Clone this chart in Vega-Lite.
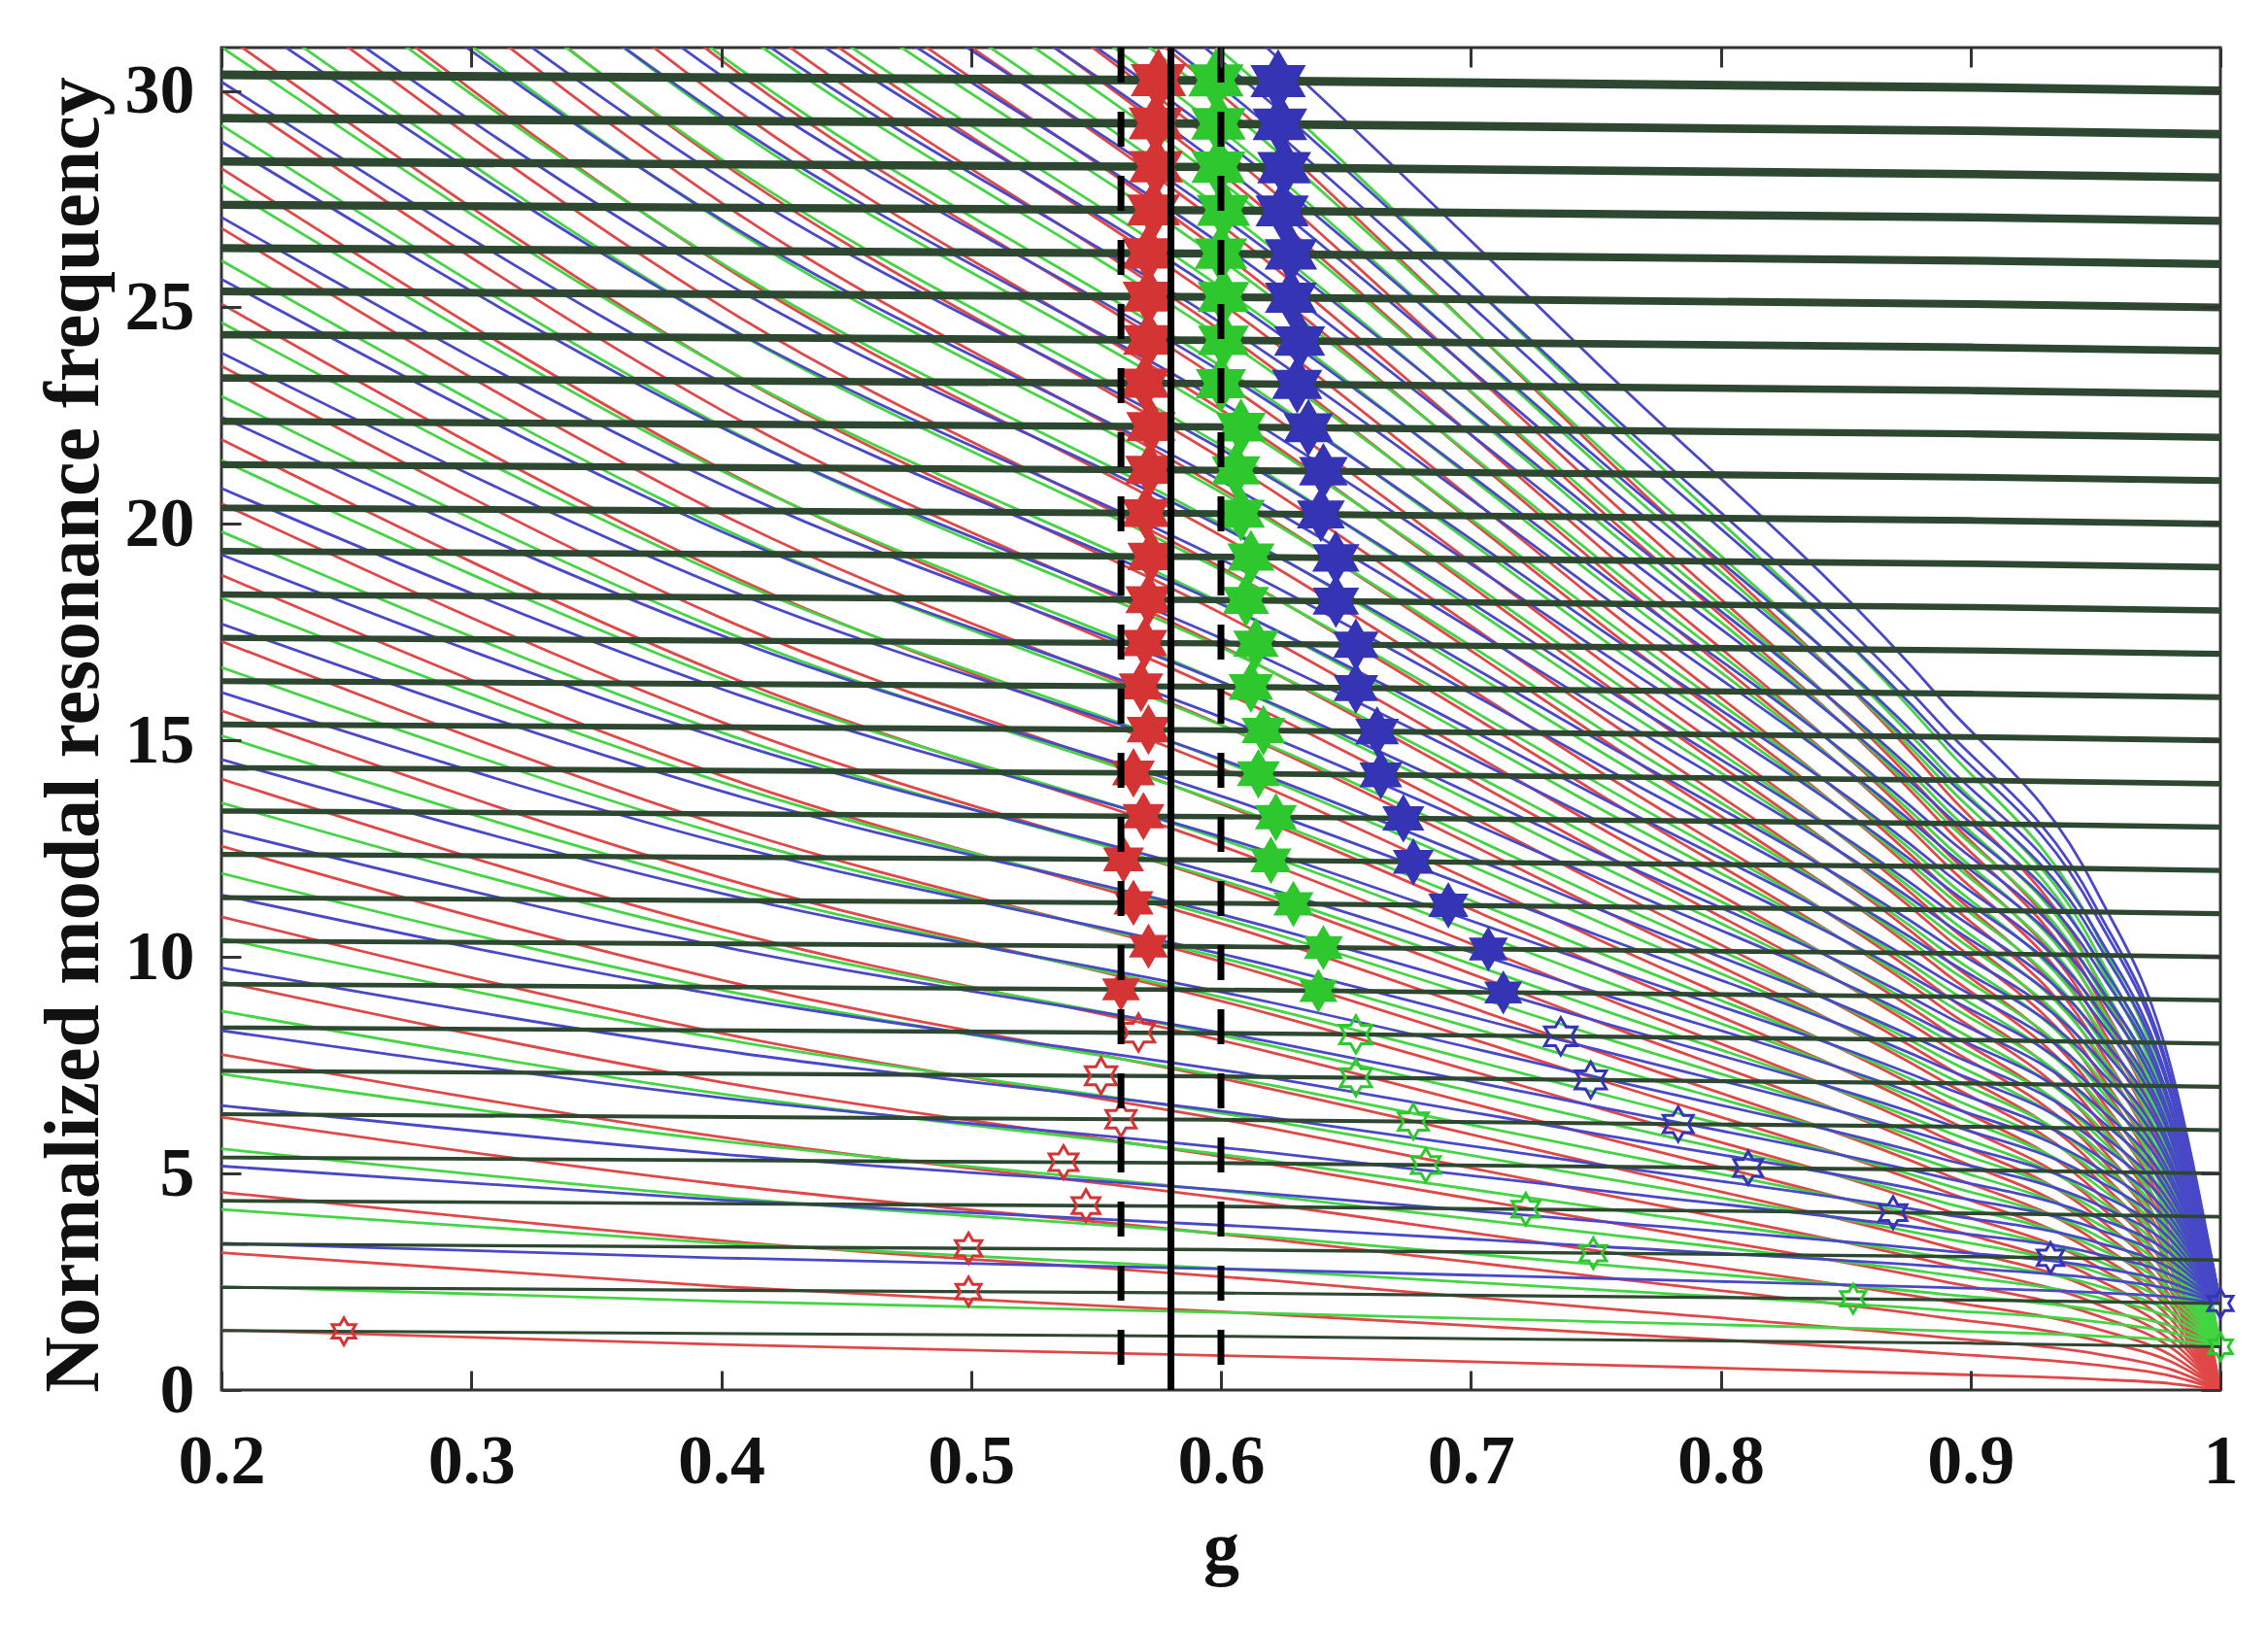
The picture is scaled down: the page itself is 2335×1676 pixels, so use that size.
{
  "$schema": "https://vega.github.io/schema/vega-lite/v6.json",
  "width": 2058,
  "height": 1382,
  "autosize": {"type": "none"},
  "padding": {"left": 228, "top": 49, "right": 49, "bottom": 245},
  "background": "white",
  "config": {
    "view": {"stroke": "#333333", "strokeWidth": 3},
    "axis": {
      "labelFont": "Liberation Serif",
      "labelFontWeight": "bold",
      "labelFontSize": 72,
      "labelColor": "#111111",
      "titleFont": "Liberation Serif",
      "titleFontWeight": "bold",
      "titleColor": "#111111",
      "grid": false,
      "domain": false,
      "tickColor": "#333333",
      "tickWidth": 3,
      "labelFlush": false,
      "labelOverlap": false
    }
  },
  "datasets": {
    "red": [
      {"k":"a0","g":0.2,"f":1.39},{"k":"a0","g":0.4,"f":1.05},{"k":"a0","g":0.62,"f":0.77},{"k":"a0","g":0.75,"f":0.58},{"k":"a0","g":0.888,"f":0.37},{"k":"a0","g":0.95,"f":0.25},{"k":"a0","g":0.98,"f":0.15},{"k":"a0","g":1,"f":0},
      {"k":"b0","g":0.2,"f":3.17},{"k":"b0","g":0.4,"f":2.39},{"k":"b0","g":0.62,"f":1.75},{"k":"b0","g":0.75,"f":1.32},{"k":"b0","g":0.888,"f":0.85},{"k":"b0","g":0.95,"f":0.58},{"k":"b0","g":0.98,"f":0.33},{"k":"b0","g":1,"f":0},
      {"k":"a1","g":0.2,"f":4.57},{"k":"a1","g":0.4,"f":3.45},{"k":"a1","g":0.62,"f":2.53},{"k":"a1","g":0.75,"f":1.9},{"k":"a1","g":0.888,"f":1.22},{"k":"a1","g":0.95,"f":0.84},{"k":"a1","g":0.98,"f":0.48},{"k":"a1","g":1,"f":0},
      {"k":"b1","g":0.2,"f":6.3},{"k":"b1","g":0.4,"f":4.75},{"k":"b1","g":0.62,"f":3.48},{"k":"b1","g":0.75,"f":2.62},{"k":"b1","g":0.888,"f":1.68},{"k":"b1","g":0.95,"f":1.15},{"k":"b1","g":0.98,"f":0.66},{"k":"b1","g":1,"f":0},
      {"k":"a2","g":0.2,"f":7.75},{"k":"a2","g":0.4,"f":5.84},{"k":"a2","g":0.62,"f":4.29},{"k":"a2","g":0.75,"f":3.22},{"k":"a2","g":0.888,"f":2.07},{"k":"a2","g":0.95,"f":1.42},{"k":"a2","g":0.98,"f":0.81},{"k":"a2","g":1,"f":0},
      {"k":"b2","g":0.2,"f":9.43},{"k":"b2","g":0.4,"f":7.11},{"k":"b2","g":0.62,"f":5.21},{"k":"b2","g":0.75,"f":3.92},{"k":"b2","g":0.888,"f":2.52},{"k":"b2","g":0.95,"f":1.73},{"k":"b2","g":0.98,"f":0.99},{"k":"b2","g":1,"f":0},
      {"k":"a3","g":0.2,"f":10.93},{"k":"a3","g":0.4,"f":8.24},{"k":"a3","g":0.62,"f":6.04},{"k":"a3","g":0.75,"f":4.55},{"k":"a3","g":0.888,"f":2.92},{"k":"a3","g":0.95,"f":2},{"k":"a3","g":0.98,"f":1.15},{"k":"a3","g":1,"f":0},
      {"k":"b3","g":0.2,"f":12.56},{"k":"b3","g":0.4,"f":9.47},{"k":"b3","g":0.62,"f":6.95},{"k":"b3","g":0.75,"f":5.23},{"k":"b3","g":0.888,"f":3.35},{"k":"b3","g":0.95,"f":2.3},{"k":"b3","g":0.98,"f":1.32},{"k":"b3","g":1,"f":0},
      {"k":"a4","g":0.2,"f":14.11},{"k":"a4","g":0.4,"f":10.64},{"k":"a4","g":0.62,"f":7.8},{"k":"a4","g":0.75,"f":5.87},{"k":"a4","g":0.888,"f":3.77},{"k":"a4","g":0.95,"f":2.58},{"k":"a4","g":0.98,"f":1.48},{"k":"a4","g":1,"f":0},
      {"k":"b4","g":0.2,"f":15.69},{"k":"b4","g":0.4,"f":11.83},{"k":"b4","g":0.62,"f":8.68},{"k":"b4","g":0.75,"f":6.53},{"k":"b4","g":0.888,"f":4.19},{"k":"b4","g":0.95,"f":2.87},{"k":"b4","g":0.98,"f":1.65},{"k":"b4","g":1,"f":0},
      {"k":"a5","g":0.2,"f":17.29},{"k":"a5","g":0.4,"f":13.04},{"k":"a5","g":0.62,"f":9.56},{"k":"a5","g":0.75,"f":7.19},{"k":"a5","g":0.888,"f":4.62},{"k":"a5","g":0.95,"f":3.16},{"k":"a5","g":0.98,"f":1.82},{"k":"a5","g":1,"f":0},
      {"k":"b5","g":0.2,"f":18.82},{"k":"b5","g":0.4,"f":14.19},{"k":"b5","g":0.62,"f":10.41},{"k":"b5","g":0.75,"f":7.83},{"k":"b5","g":0.888,"f":5.02},{"k":"b5","g":0.95,"f":3.44},{"k":"b5","g":0.98,"f":1.98},{"k":"b5","g":1,"f":0},
      {"k":"a6","g":0.2,"f":20.47},{"k":"a6","g":0.4,"f":15.43},{"k":"a6","g":0.62,"f":11.32},{"k":"a6","g":0.75,"f":8.52},{"k":"a6","g":0.888,"f":5.47},{"k":"a6","g":0.95,"f":3.75},{"k":"a6","g":0.98,"f":2.15},{"k":"a6","g":1,"f":0},
      {"k":"b6","g":0.2,"f":21.95},{"k":"b6","g":0.4,"f":16.55},{"k":"b6","g":0.62,"f":12.14},{"k":"b6","g":0.75,"f":9.13},{"k":"b6","g":0.888,"f":5.86},{"k":"b6","g":0.95,"f":4.02},{"k":"b6","g":0.98,"f":2.3},{"k":"b6","g":1,"f":0},
      {"k":"a7","g":0.2,"f":23.65},{"k":"a7","g":0.4,"f":17.83},{"k":"a7","g":0.62,"f":13.08},{"k":"a7","g":0.75,"f":9.84},{"k":"a7","g":0.888,"f":6.31},{"k":"a7","g":0.95,"f":4.33},{"k":"a7","g":0.98,"f":2.48},{"k":"a7","g":1,"f":0},
      {"k":"b7","g":0.2,"f":25.08},{"k":"b7","g":0.4,"f":18.91},{"k":"b7","g":0.62,"f":13.87},{"k":"b7","g":0.75,"f":10.43},{"k":"b7","g":0.888,"f":6.7},{"k":"b7","g":0.95,"f":4.59},{"k":"b7","g":0.98,"f":2.63},{"k":"b7","g":1,"f":0},
      {"k":"a8","g":0.2,"f":26.83},{"k":"a8","g":0.4,"f":20.23},{"k":"a8","g":0.62,"f":14.84},{"k":"a8","g":0.75,"f":11.16},{"k":"a8","g":0.888,"f":7.16},{"k":"a8","g":0.95,"f":4.91},{"k":"a8","g":0.98,"f":2.82},{"k":"a8","g":1,"f":0},
      {"k":"b8","g":0.2,"f":28.21},{"k":"b8","g":0.4,"f":21.27},{"k":"b8","g":0.62,"f":15.6},{"k":"b8","g":0.75,"f":11.74},{"k":"b8","g":0.888,"f":7.53},{"k":"b8","g":0.95,"f":5.16},{"k":"b8","g":0.98,"f":2.96},{"k":"b8","g":1,"f":0},
      {"k":"a9","g":0.2,"f":30.01},{"k":"a9","g":0.4,"f":22.63},{"k":"a9","g":0.62,"f":16.6},{"k":"a9","g":0.75,"f":12.48},{"k":"a9","g":0.888,"f":8.01},{"k":"a9","g":0.95,"f":5.49},{"k":"a9","g":0.98,"f":3.15},{"k":"a9","g":1,"f":0},
      {"k":"b9","g":0.2,"f":31.34},{"k":"b9","g":0.4,"f":23.63},{"k":"b9","g":0.62,"f":17.33},{"k":"b9","g":0.75,"f":13.04},{"k":"b9","g":0.888,"f":8.37},{"k":"b9","g":0.95,"f":5.74},{"k":"b9","g":0.98,"f":3.29},{"k":"b9","g":1,"f":0},
      {"k":"a10","g":0.2,"f":33.19},{"k":"a10","g":0.4,"f":25.03},{"k":"a10","g":0.62,"f":18.35},{"k":"a10","g":0.75,"f":13.81},{"k":"a10","g":0.888,"f":8.86},{"k":"a10","g":0.95,"f":6.07},{"k":"a10","g":0.98,"f":3.49},{"k":"a10","g":1,"f":0},
      {"k":"b10","g":0.2,"f":34.47},{"k":"b10","g":0.4,"f":25.99},{"k":"b10","g":0.62,"f":19.06},{"k":"b10","g":0.75,"f":14.34},{"k":"b10","g":0.888,"f":9.2},{"k":"b10","g":0.95,"f":6.31},{"k":"b10","g":0.98,"f":3.62},{"k":"b10","g":1,"f":0},
      {"k":"a11","g":0.2,"f":36.37},{"k":"a11","g":0.4,"f":27.42},{"k":"a11","g":0.62,"f":20.11},{"k":"a11","g":0.75,"f":15.13},{"k":"a11","g":0.888,"f":9.71},{"k":"a11","g":0.95,"f":6.66},{"k":"a11","g":0.98,"f":3.82},{"k":"a11","g":1,"f":0},
      {"k":"b11","g":0.2,"f":37.6},{"k":"b11","g":0.4,"f":28.35},{"k":"b11","g":0.62,"f":20.79},{"k":"b11","g":0.75,"f":15.64},{"k":"b11","g":0.888,"f":10.04},{"k":"b11","g":0.95,"f":6.88},{"k":"b11","g":0.98,"f":3.95},{"k":"b11","g":1,"f":0},
      {"k":"a12","g":0.2,"f":39.55},{"k":"a12","g":0.4,"f":29.82},{"k":"a12","g":0.62,"f":21.87},{"k":"a12","g":0.75,"f":16.45},{"k":"a12","g":0.888,"f":10.56},{"k":"a12","g":0.95,"f":7.24},{"k":"a12","g":0.98,"f":4.15},{"k":"a12","g":1,"f":0},
      {"k":"b12","g":0.2,"f":40.73},{"k":"b12","g":0.4,"f":30.71},{"k":"b12","g":0.62,"f":22.52},{"k":"b12","g":0.75,"f":16.94},{"k":"b12","g":0.888,"f":10.88},{"k":"b12","g":0.95,"f":7.45},{"k":"b12","g":0.98,"f":4.28},{"k":"b12","g":1,"f":0},
      {"k":"a13","g":0.2,"f":42.73},{"k":"a13","g":0.4,"f":32.22},{"k":"a13","g":0.62,"f":23.63},{"k":"a13","g":0.75,"f":17.78},{"k":"a13","g":0.888,"f":11.41},{"k":"a13","g":0.95,"f":7.82},{"k":"a13","g":0.98,"f":4.49},{"k":"a13","g":1,"f":0},
      {"k":"b13","g":0.2,"f":43.86},{"k":"b13","g":0.4,"f":33.07},{"k":"b13","g":0.62,"f":24.25},{"k":"b13","g":0.75,"f":18.25},{"k":"b13","g":0.888,"f":11.71},{"k":"b13","g":0.95,"f":8.03},{"k":"b13","g":0.98,"f":4.61},{"k":"b13","g":1,"f":0},
      {"k":"a14","g":0.2,"f":45.91},{"k":"a14","g":0.4,"f":34.62},{"k":"a14","g":0.62,"f":25.39},{"k":"a14","g":0.75,"f":19.1},{"k":"a14","g":0.888,"f":12.26},{"k":"a14","g":0.95,"f":8.4},{"k":"a14","g":0.98,"f":4.82},{"k":"a14","g":1,"f":0},
      {"k":"b14","g":0.2,"f":46.99},{"k":"b14","g":0.4,"f":35.43},{"k":"b14","g":0.62,"f":25.99},{"k":"b14","g":0.75,"f":19.55},{"k":"b14","g":0.888,"f":12.55},{"k":"b14","g":0.95,"f":8.6},{"k":"b14","g":0.98,"f":4.93},{"k":"b14","g":1,"f":0},
      {"k":"a15","g":0.2,"f":49.09},{"k":"a15","g":0.4,"f":37.01},{"k":"a15","g":0.62,"f":27.15},{"k":"a15","g":0.75,"f":20.42},{"k":"a15","g":0.888,"f":13.11},{"k":"a15","g":0.95,"f":8.98},{"k":"a15","g":0.98,"f":5.15},{"k":"a15","g":1,"f":0},
      {"k":"b15","g":0.2,"f":50.12},{"k":"b15","g":0.4,"f":37.79},{"k":"b15","g":0.62,"f":27.72},{"k":"b15","g":0.75,"f":20.85},{"k":"b15","g":0.888,"f":13.38},{"k":"b15","g":0.95,"f":9.17},{"k":"b15","g":0.98,"f":5.26},{"k":"b15","g":1,"f":0},
      {"k":"a16","g":0.2,"f":52.27},{"k":"a16","g":0.4,"f":39.41},{"k":"a16","g":0.62,"f":28.91},{"k":"a16","g":0.75,"f":21.74},{"k":"a16","g":0.888,"f":13.96},{"k":"a16","g":0.95,"f":9.57},{"k":"a16","g":0.98,"f":5.49},{"k":"a16","g":1,"f":0}
    ],
    "green": [
      {"k":"a0","g":0.2,"f":2.39},{"k":"a0","g":0.4,"f":2.05},{"k":"a0","g":0.62,"f":1.77},{"k":"a0","g":0.75,"f":1.58},{"k":"a0","g":0.888,"f":1.37},{"k":"a0","g":0.95,"f":1.25},{"k":"a0","g":0.98,"f":1.15},{"k":"a0","g":1,"f":1},
      {"k":"b0","g":0.2,"f":4.17},{"k":"b0","g":0.4,"f":3.39},{"k":"b0","g":0.62,"f":2.75},{"k":"b0","g":0.75,"f":2.32},{"k":"b0","g":0.888,"f":1.85},{"k":"b0","g":0.95,"f":1.58},{"k":"b0","g":0.98,"f":1.33},{"k":"b0","g":1,"f":1},
      {"k":"a1","g":0.2,"f":5.57},{"k":"a1","g":0.4,"f":4.45},{"k":"a1","g":0.62,"f":3.53},{"k":"a1","g":0.75,"f":2.9},{"k":"a1","g":0.888,"f":2.22},{"k":"a1","g":0.95,"f":1.84},{"k":"a1","g":0.98,"f":1.48},{"k":"a1","g":1,"f":1},
      {"k":"b1","g":0.2,"f":7.3},{"k":"b1","g":0.4,"f":5.75},{"k":"b1","g":0.62,"f":4.48},{"k":"b1","g":0.75,"f":3.62},{"k":"b1","g":0.888,"f":2.68},{"k":"b1","g":0.95,"f":2.15},{"k":"b1","g":0.98,"f":1.66},{"k":"b1","g":1,"f":1},
      {"k":"a2","g":0.2,"f":8.75},{"k":"a2","g":0.4,"f":6.84},{"k":"a2","g":0.62,"f":5.29},{"k":"a2","g":0.75,"f":4.22},{"k":"a2","g":0.888,"f":3.07},{"k":"a2","g":0.95,"f":2.42},{"k":"a2","g":0.98,"f":1.81},{"k":"a2","g":1,"f":1},
      {"k":"b2","g":0.2,"f":10.43},{"k":"b2","g":0.4,"f":8.11},{"k":"b2","g":0.62,"f":6.21},{"k":"b2","g":0.75,"f":4.92},{"k":"b2","g":0.888,"f":3.52},{"k":"b2","g":0.95,"f":2.73},{"k":"b2","g":0.98,"f":1.99},{"k":"b2","g":1,"f":1},
      {"k":"a3","g":0.2,"f":11.93},{"k":"a3","g":0.4,"f":9.24},{"k":"a3","g":0.62,"f":7.04},{"k":"a3","g":0.75,"f":5.55},{"k":"a3","g":0.888,"f":3.92},{"k":"a3","g":0.95,"f":3},{"k":"a3","g":0.98,"f":2.15},{"k":"a3","g":1,"f":1},
      {"k":"b3","g":0.2,"f":13.56},{"k":"b3","g":0.4,"f":10.47},{"k":"b3","g":0.62,"f":7.95},{"k":"b3","g":0.75,"f":6.23},{"k":"b3","g":0.888,"f":4.35},{"k":"b3","g":0.95,"f":3.3},{"k":"b3","g":0.98,"f":2.32},{"k":"b3","g":1,"f":1},
      {"k":"a4","g":0.2,"f":15.11},{"k":"a4","g":0.4,"f":11.64},{"k":"a4","g":0.62,"f":8.8},{"k":"a4","g":0.75,"f":6.87},{"k":"a4","g":0.888,"f":4.77},{"k":"a4","g":0.95,"f":3.58},{"k":"a4","g":0.98,"f":2.48},{"k":"a4","g":1,"f":1},
      {"k":"b4","g":0.2,"f":16.69},{"k":"b4","g":0.4,"f":12.83},{"k":"b4","g":0.62,"f":9.68},{"k":"b4","g":0.75,"f":7.53},{"k":"b4","g":0.888,"f":5.19},{"k":"b4","g":0.95,"f":3.87},{"k":"b4","g":0.98,"f":2.65},{"k":"b4","g":1,"f":1},
      {"k":"a5","g":0.2,"f":18.29},{"k":"a5","g":0.4,"f":14.04},{"k":"a5","g":0.62,"f":10.56},{"k":"a5","g":0.75,"f":8.19},{"k":"a5","g":0.888,"f":5.62},{"k":"a5","g":0.95,"f":4.16},{"k":"a5","g":0.98,"f":2.82},{"k":"a5","g":1,"f":1},
      {"k":"b5","g":0.2,"f":19.82},{"k":"b5","g":0.4,"f":15.19},{"k":"b5","g":0.62,"f":11.41},{"k":"b5","g":0.75,"f":8.83},{"k":"b5","g":0.888,"f":6.02},{"k":"b5","g":0.95,"f":4.44},{"k":"b5","g":0.98,"f":2.98},{"k":"b5","g":1,"f":1},
      {"k":"a6","g":0.2,"f":21.47},{"k":"a6","g":0.4,"f":16.43},{"k":"a6","g":0.62,"f":12.32},{"k":"a6","g":0.75,"f":9.52},{"k":"a6","g":0.888,"f":6.47},{"k":"a6","g":0.95,"f":4.75},{"k":"a6","g":0.98,"f":3.15},{"k":"a6","g":1,"f":1},
      {"k":"b6","g":0.2,"f":22.95},{"k":"b6","g":0.4,"f":17.55},{"k":"b6","g":0.62,"f":13.14},{"k":"b6","g":0.75,"f":10.13},{"k":"b6","g":0.888,"f":6.86},{"k":"b6","g":0.95,"f":5.02},{"k":"b6","g":0.98,"f":3.3},{"k":"b6","g":1,"f":1},
      {"k":"a7","g":0.2,"f":24.65},{"k":"a7","g":0.4,"f":18.83},{"k":"a7","g":0.62,"f":14.08},{"k":"a7","g":0.75,"f":10.84},{"k":"a7","g":0.888,"f":7.31},{"k":"a7","g":0.95,"f":5.33},{"k":"a7","g":0.98,"f":3.48},{"k":"a7","g":1,"f":1},
      {"k":"b7","g":0.2,"f":26.08},{"k":"b7","g":0.4,"f":19.91},{"k":"b7","g":0.62,"f":14.87},{"k":"b7","g":0.75,"f":11.43},{"k":"b7","g":0.888,"f":7.7},{"k":"b7","g":0.95,"f":5.59},{"k":"b7","g":0.98,"f":3.63},{"k":"b7","g":1,"f":1},
      {"k":"a8","g":0.2,"f":27.83},{"k":"a8","g":0.4,"f":21.23},{"k":"a8","g":0.62,"f":15.84},{"k":"a8","g":0.75,"f":12.16},{"k":"a8","g":0.888,"f":8.16},{"k":"a8","g":0.95,"f":5.91},{"k":"a8","g":0.98,"f":3.82},{"k":"a8","g":1,"f":1},
      {"k":"b8","g":0.2,"f":29.21},{"k":"b8","g":0.4,"f":22.27},{"k":"b8","g":0.62,"f":16.6},{"k":"b8","g":0.75,"f":12.74},{"k":"b8","g":0.888,"f":8.53},{"k":"b8","g":0.95,"f":6.16},{"k":"b8","g":0.98,"f":3.96},{"k":"b8","g":1,"f":1},
      {"k":"a9","g":0.2,"f":31.01},{"k":"a9","g":0.4,"f":23.63},{"k":"a9","g":0.62,"f":17.6},{"k":"a9","g":0.75,"f":13.48},{"k":"a9","g":0.888,"f":9.01},{"k":"a9","g":0.95,"f":6.49},{"k":"a9","g":0.98,"f":4.15},{"k":"a9","g":1,"f":1},
      {"k":"b9","g":0.2,"f":32.34},{"k":"b9","g":0.4,"f":24.63},{"k":"b9","g":0.62,"f":18.33},{"k":"b9","g":0.75,"f":14.04},{"k":"b9","g":0.888,"f":9.37},{"k":"b9","g":0.95,"f":6.74},{"k":"b9","g":0.98,"f":4.29},{"k":"b9","g":1,"f":1},
      {"k":"a10","g":0.2,"f":34.19},{"k":"a10","g":0.4,"f":26.03},{"k":"a10","g":0.62,"f":19.35},{"k":"a10","g":0.75,"f":14.81},{"k":"a10","g":0.888,"f":9.86},{"k":"a10","g":0.95,"f":7.07},{"k":"a10","g":0.98,"f":4.49},{"k":"a10","g":1,"f":1},
      {"k":"b10","g":0.2,"f":35.47},{"k":"b10","g":0.4,"f":26.99},{"k":"b10","g":0.62,"f":20.06},{"k":"b10","g":0.75,"f":15.34},{"k":"b10","g":0.888,"f":10.2},{"k":"b10","g":0.95,"f":7.31},{"k":"b10","g":0.98,"f":4.62},{"k":"b10","g":1,"f":1},
      {"k":"a11","g":0.2,"f":37.37},{"k":"a11","g":0.4,"f":28.42},{"k":"a11","g":0.62,"f":21.11},{"k":"a11","g":0.75,"f":16.13},{"k":"a11","g":0.888,"f":10.71},{"k":"a11","g":0.95,"f":7.66},{"k":"a11","g":0.98,"f":4.82},{"k":"a11","g":1,"f":1},
      {"k":"b11","g":0.2,"f":38.6},{"k":"b11","g":0.4,"f":29.35},{"k":"b11","g":0.62,"f":21.79},{"k":"b11","g":0.75,"f":16.64},{"k":"b11","g":0.888,"f":11.04},{"k":"b11","g":0.95,"f":7.88},{"k":"b11","g":0.98,"f":4.95},{"k":"b11","g":1,"f":1},
      {"k":"a12","g":0.2,"f":40.55},{"k":"a12","g":0.4,"f":30.82},{"k":"a12","g":0.62,"f":22.87},{"k":"a12","g":0.75,"f":17.45},{"k":"a12","g":0.888,"f":11.56},{"k":"a12","g":0.95,"f":8.24},{"k":"a12","g":0.98,"f":5.15},{"k":"a12","g":1,"f":1},
      {"k":"b12","g":0.2,"f":41.73},{"k":"b12","g":0.4,"f":31.71},{"k":"b12","g":0.62,"f":23.52},{"k":"b12","g":0.75,"f":17.94},{"k":"b12","g":0.888,"f":11.88},{"k":"b12","g":0.95,"f":8.45},{"k":"b12","g":0.98,"f":5.28},{"k":"b12","g":1,"f":1},
      {"k":"a13","g":0.2,"f":43.73},{"k":"a13","g":0.4,"f":33.22},{"k":"a13","g":0.62,"f":24.63},{"k":"a13","g":0.75,"f":18.78},{"k":"a13","g":0.888,"f":12.41},{"k":"a13","g":0.95,"f":8.82},{"k":"a13","g":0.98,"f":5.49},{"k":"a13","g":1,"f":1},
      {"k":"b13","g":0.2,"f":44.86},{"k":"b13","g":0.4,"f":34.07},{"k":"b13","g":0.62,"f":25.25},{"k":"b13","g":0.75,"f":19.25},{"k":"b13","g":0.888,"f":12.71},{"k":"b13","g":0.95,"f":9.03},{"k":"b13","g":0.98,"f":5.61},{"k":"b13","g":1,"f":1},
      {"k":"a14","g":0.2,"f":46.91},{"k":"a14","g":0.4,"f":35.62},{"k":"a14","g":0.62,"f":26.39},{"k":"a14","g":0.75,"f":20.1},{"k":"a14","g":0.888,"f":13.26},{"k":"a14","g":0.95,"f":9.4},{"k":"a14","g":0.98,"f":5.82},{"k":"a14","g":1,"f":1},
      {"k":"b14","g":0.2,"f":47.99},{"k":"b14","g":0.4,"f":36.43},{"k":"b14","g":0.62,"f":26.99},{"k":"b14","g":0.75,"f":20.55},{"k":"b14","g":0.888,"f":13.55},{"k":"b14","g":0.95,"f":9.6},{"k":"b14","g":0.98,"f":5.93},{"k":"b14","g":1,"f":1},
      {"k":"a15","g":0.2,"f":50.09},{"k":"a15","g":0.4,"f":38.01},{"k":"a15","g":0.62,"f":28.15},{"k":"a15","g":0.75,"f":21.42},{"k":"a15","g":0.888,"f":14.11},{"k":"a15","g":0.95,"f":9.98},{"k":"a15","g":0.98,"f":6.15},{"k":"a15","g":1,"f":1},
      {"k":"b15","g":0.2,"f":51.12},{"k":"b15","g":0.4,"f":38.79},{"k":"b15","g":0.62,"f":28.72},{"k":"b15","g":0.75,"f":21.85},{"k":"b15","g":0.888,"f":14.38},{"k":"b15","g":0.95,"f":10.17},{"k":"b15","g":0.98,"f":6.26},{"k":"b15","g":1,"f":1},
      {"k":"a16","g":0.2,"f":53.27},{"k":"a16","g":0.4,"f":40.41},{"k":"a16","g":0.62,"f":29.91},{"k":"a16","g":0.75,"f":22.74},{"k":"a16","g":0.888,"f":14.96},{"k":"a16","g":0.95,"f":10.57},{"k":"a16","g":0.98,"f":6.49},{"k":"a16","g":1,"f":1}
    ],
    "blue": [
      {"k":"a0","g":0.2,"f":3.39},{"k":"a0","g":0.4,"f":3.05},{"k":"a0","g":0.62,"f":2.77},{"k":"a0","g":0.75,"f":2.58},{"k":"a0","g":0.888,"f":2.37},{"k":"a0","g":0.95,"f":2.25},{"k":"a0","g":0.98,"f":2.15},{"k":"a0","g":1,"f":2},
      {"k":"b0","g":0.2,"f":5.17},{"k":"b0","g":0.4,"f":4.39},{"k":"b0","g":0.62,"f":3.75},{"k":"b0","g":0.75,"f":3.32},{"k":"b0","g":0.888,"f":2.85},{"k":"b0","g":0.95,"f":2.58},{"k":"b0","g":0.98,"f":2.33},{"k":"b0","g":1,"f":2},
      {"k":"a1","g":0.2,"f":6.57},{"k":"a1","g":0.4,"f":5.45},{"k":"a1","g":0.62,"f":4.53},{"k":"a1","g":0.75,"f":3.9},{"k":"a1","g":0.888,"f":3.22},{"k":"a1","g":0.95,"f":2.84},{"k":"a1","g":0.98,"f":2.48},{"k":"a1","g":1,"f":2},
      {"k":"b1","g":0.2,"f":8.3},{"k":"b1","g":0.4,"f":6.75},{"k":"b1","g":0.62,"f":5.48},{"k":"b1","g":0.75,"f":4.62},{"k":"b1","g":0.888,"f":3.68},{"k":"b1","g":0.95,"f":3.15},{"k":"b1","g":0.98,"f":2.66},{"k":"b1","g":1,"f":2},
      {"k":"a2","g":0.2,"f":9.75},{"k":"a2","g":0.4,"f":7.84},{"k":"a2","g":0.62,"f":6.29},{"k":"a2","g":0.75,"f":5.22},{"k":"a2","g":0.888,"f":4.07},{"k":"a2","g":0.95,"f":3.42},{"k":"a2","g":0.98,"f":2.81},{"k":"a2","g":1,"f":2},
      {"k":"b2","g":0.2,"f":11.43},{"k":"b2","g":0.4,"f":9.11},{"k":"b2","g":0.62,"f":7.21},{"k":"b2","g":0.75,"f":5.92},{"k":"b2","g":0.888,"f":4.52},{"k":"b2","g":0.95,"f":3.73},{"k":"b2","g":0.98,"f":2.99},{"k":"b2","g":1,"f":2},
      {"k":"a3","g":0.2,"f":12.93},{"k":"a3","g":0.4,"f":10.24},{"k":"a3","g":0.62,"f":8.04},{"k":"a3","g":0.75,"f":6.55},{"k":"a3","g":0.888,"f":4.92},{"k":"a3","g":0.95,"f":4},{"k":"a3","g":0.98,"f":3.15},{"k":"a3","g":1,"f":2},
      {"k":"b3","g":0.2,"f":14.56},{"k":"b3","g":0.4,"f":11.47},{"k":"b3","g":0.62,"f":8.95},{"k":"b3","g":0.75,"f":7.23},{"k":"b3","g":0.888,"f":5.35},{"k":"b3","g":0.95,"f":4.3},{"k":"b3","g":0.98,"f":3.32},{"k":"b3","g":1,"f":2},
      {"k":"a4","g":0.2,"f":16.11},{"k":"a4","g":0.4,"f":12.64},{"k":"a4","g":0.62,"f":9.8},{"k":"a4","g":0.75,"f":7.87},{"k":"a4","g":0.888,"f":5.77},{"k":"a4","g":0.95,"f":4.58},{"k":"a4","g":0.98,"f":3.48},{"k":"a4","g":1,"f":2},
      {"k":"b4","g":0.2,"f":17.69},{"k":"b4","g":0.4,"f":13.83},{"k":"b4","g":0.62,"f":10.68},{"k":"b4","g":0.75,"f":8.53},{"k":"b4","g":0.888,"f":6.19},{"k":"b4","g":0.95,"f":4.87},{"k":"b4","g":0.98,"f":3.65},{"k":"b4","g":1,"f":2},
      {"k":"a5","g":0.2,"f":19.29},{"k":"a5","g":0.4,"f":15.04},{"k":"a5","g":0.62,"f":11.56},{"k":"a5","g":0.75,"f":9.19},{"k":"a5","g":0.888,"f":6.62},{"k":"a5","g":0.95,"f":5.16},{"k":"a5","g":0.98,"f":3.82},{"k":"a5","g":1,"f":2},
      {"k":"b5","g":0.2,"f":20.82},{"k":"b5","g":0.4,"f":16.19},{"k":"b5","g":0.62,"f":12.41},{"k":"b5","g":0.75,"f":9.83},{"k":"b5","g":0.888,"f":7.02},{"k":"b5","g":0.95,"f":5.44},{"k":"b5","g":0.98,"f":3.98},{"k":"b5","g":1,"f":2},
      {"k":"a6","g":0.2,"f":22.47},{"k":"a6","g":0.4,"f":17.43},{"k":"a6","g":0.62,"f":13.32},{"k":"a6","g":0.75,"f":10.52},{"k":"a6","g":0.888,"f":7.47},{"k":"a6","g":0.95,"f":5.75},{"k":"a6","g":0.98,"f":4.15},{"k":"a6","g":1,"f":2},
      {"k":"b6","g":0.2,"f":23.95},{"k":"b6","g":0.4,"f":18.55},{"k":"b6","g":0.62,"f":14.14},{"k":"b6","g":0.75,"f":11.13},{"k":"b6","g":0.888,"f":7.86},{"k":"b6","g":0.95,"f":6.02},{"k":"b6","g":0.98,"f":4.3},{"k":"b6","g":1,"f":2},
      {"k":"a7","g":0.2,"f":25.65},{"k":"a7","g":0.4,"f":19.83},{"k":"a7","g":0.62,"f":15.08},{"k":"a7","g":0.75,"f":11.84},{"k":"a7","g":0.888,"f":8.31},{"k":"a7","g":0.95,"f":6.33},{"k":"a7","g":0.98,"f":4.48},{"k":"a7","g":1,"f":2},
      {"k":"b7","g":0.2,"f":27.08},{"k":"b7","g":0.4,"f":20.91},{"k":"b7","g":0.62,"f":15.87},{"k":"b7","g":0.75,"f":12.43},{"k":"b7","g":0.888,"f":8.7},{"k":"b7","g":0.95,"f":6.59},{"k":"b7","g":0.98,"f":4.63},{"k":"b7","g":1,"f":2},
      {"k":"a8","g":0.2,"f":28.83},{"k":"a8","g":0.4,"f":22.23},{"k":"a8","g":0.62,"f":16.84},{"k":"a8","g":0.75,"f":13.16},{"k":"a8","g":0.888,"f":9.16},{"k":"a8","g":0.95,"f":6.91},{"k":"a8","g":0.98,"f":4.82},{"k":"a8","g":1,"f":2},
      {"k":"b8","g":0.2,"f":30.21},{"k":"b8","g":0.4,"f":23.27},{"k":"b8","g":0.62,"f":17.6},{"k":"b8","g":0.75,"f":13.74},{"k":"b8","g":0.888,"f":9.53},{"k":"b8","g":0.95,"f":7.16},{"k":"b8","g":0.98,"f":4.96},{"k":"b8","g":1,"f":2},
      {"k":"a9","g":0.2,"f":32.01},{"k":"a9","g":0.4,"f":24.63},{"k":"a9","g":0.62,"f":18.6},{"k":"a9","g":0.75,"f":14.48},{"k":"a9","g":0.888,"f":10.01},{"k":"a9","g":0.95,"f":7.49},{"k":"a9","g":0.98,"f":5.15},{"k":"a9","g":1,"f":2},
      {"k":"b9","g":0.2,"f":33.34},{"k":"b9","g":0.4,"f":25.63},{"k":"b9","g":0.62,"f":19.33},{"k":"b9","g":0.75,"f":15.04},{"k":"b9","g":0.888,"f":10.37},{"k":"b9","g":0.95,"f":7.74},{"k":"b9","g":0.98,"f":5.29},{"k":"b9","g":1,"f":2},
      {"k":"a10","g":0.2,"f":35.19},{"k":"a10","g":0.4,"f":27.03},{"k":"a10","g":0.62,"f":20.35},{"k":"a10","g":0.75,"f":15.81},{"k":"a10","g":0.888,"f":10.86},{"k":"a10","g":0.95,"f":8.07},{"k":"a10","g":0.98,"f":5.49},{"k":"a10","g":1,"f":2},
      {"k":"b10","g":0.2,"f":36.47},{"k":"b10","g":0.4,"f":27.99},{"k":"b10","g":0.62,"f":21.06},{"k":"b10","g":0.75,"f":16.34},{"k":"b10","g":0.888,"f":11.2},{"k":"b10","g":0.95,"f":8.31},{"k":"b10","g":0.98,"f":5.62},{"k":"b10","g":1,"f":2},
      {"k":"a11","g":0.2,"f":38.37},{"k":"a11","g":0.4,"f":29.42},{"k":"a11","g":0.62,"f":22.11},{"k":"a11","g":0.75,"f":17.13},{"k":"a11","g":0.888,"f":11.71},{"k":"a11","g":0.95,"f":8.66},{"k":"a11","g":0.98,"f":5.82},{"k":"a11","g":1,"f":2},
      {"k":"b11","g":0.2,"f":39.6},{"k":"b11","g":0.4,"f":30.35},{"k":"b11","g":0.62,"f":22.79},{"k":"b11","g":0.75,"f":17.64},{"k":"b11","g":0.888,"f":12.04},{"k":"b11","g":0.95,"f":8.88},{"k":"b11","g":0.98,"f":5.95},{"k":"b11","g":1,"f":2},
      {"k":"a12","g":0.2,"f":41.55},{"k":"a12","g":0.4,"f":31.82},{"k":"a12","g":0.62,"f":23.87},{"k":"a12","g":0.75,"f":18.45},{"k":"a12","g":0.888,"f":12.56},{"k":"a12","g":0.95,"f":9.24},{"k":"a12","g":0.98,"f":6.15},{"k":"a12","g":1,"f":2},
      {"k":"b12","g":0.2,"f":42.73},{"k":"b12","g":0.4,"f":32.71},{"k":"b12","g":0.62,"f":24.52},{"k":"b12","g":0.75,"f":18.94},{"k":"b12","g":0.888,"f":12.88},{"k":"b12","g":0.95,"f":9.45},{"k":"b12","g":0.98,"f":6.28},{"k":"b12","g":1,"f":2},
      {"k":"a13","g":0.2,"f":44.73},{"k":"a13","g":0.4,"f":34.22},{"k":"a13","g":0.62,"f":25.63},{"k":"a13","g":0.75,"f":19.78},{"k":"a13","g":0.888,"f":13.41},{"k":"a13","g":0.95,"f":9.82},{"k":"a13","g":0.98,"f":6.49},{"k":"a13","g":1,"f":2},
      {"k":"b13","g":0.2,"f":45.86},{"k":"b13","g":0.4,"f":35.07},{"k":"b13","g":0.62,"f":26.25},{"k":"b13","g":0.75,"f":20.25},{"k":"b13","g":0.888,"f":13.71},{"k":"b13","g":0.95,"f":10.03},{"k":"b13","g":0.98,"f":6.61},{"k":"b13","g":1,"f":2},
      {"k":"a14","g":0.2,"f":47.91},{"k":"a14","g":0.4,"f":36.62},{"k":"a14","g":0.62,"f":27.39},{"k":"a14","g":0.75,"f":21.1},{"k":"a14","g":0.888,"f":14.26},{"k":"a14","g":0.95,"f":10.4},{"k":"a14","g":0.98,"f":6.82},{"k":"a14","g":1,"f":2},
      {"k":"b14","g":0.2,"f":48.99},{"k":"b14","g":0.4,"f":37.43},{"k":"b14","g":0.62,"f":27.99},{"k":"b14","g":0.75,"f":21.55},{"k":"b14","g":0.888,"f":14.55},{"k":"b14","g":0.95,"f":10.6},{"k":"b14","g":0.98,"f":6.93},{"k":"b14","g":1,"f":2},
      {"k":"a15","g":0.2,"f":51.09},{"k":"a15","g":0.4,"f":39.01},{"k":"a15","g":0.62,"f":29.15},{"k":"a15","g":0.75,"f":22.42},{"k":"a15","g":0.888,"f":15.11},{"k":"a15","g":0.95,"f":10.98},{"k":"a15","g":0.98,"f":7.15},{"k":"a15","g":1,"f":2},
      {"k":"b15","g":0.2,"f":52.12},{"k":"b15","g":0.4,"f":39.79},{"k":"b15","g":0.62,"f":29.72},{"k":"b15","g":0.75,"f":22.85},{"k":"b15","g":0.888,"f":15.38},{"k":"b15","g":0.95,"f":11.17},{"k":"b15","g":0.98,"f":7.26},{"k":"b15","g":1,"f":2},
      {"k":"a16","g":0.2,"f":54.27},{"k":"a16","g":0.4,"f":41.41},{"k":"a16","g":0.62,"f":30.91},{"k":"a16","g":0.75,"f":23.74},{"k":"a16","g":0.888,"f":15.96},{"k":"a16","g":0.95,"f":11.57},{"k":"a16","g":0.98,"f":7.49},{"k":"a16","g":1,"f":2}
    ],
    "hl": [
      {"n":1,"g":0.2,"f":1.37},{"n":1,"g":0.6,"f":1.24},{"n":1,"g":0.9,"f":1.08},{"n":1,"g":1,"f":1},
      {"n":2,"g":0.2,"f":2.37},{"n":2,"g":0.6,"f":2.24},{"n":2,"g":0.9,"f":2.08},{"n":2,"g":1,"f":2},
      {"n":3,"g":0.2,"f":3.37},{"n":3,"g":0.6,"f":3.24},{"n":3,"g":0.9,"f":3.08},{"n":3,"g":1,"f":3},
      {"n":4,"g":0.2,"f":4.37},{"n":4,"g":0.6,"f":4.24},{"n":4,"g":0.9,"f":4.08},{"n":4,"g":1,"f":4},
      {"n":5,"g":0.2,"f":5.37},{"n":5,"g":0.6,"f":5.24},{"n":5,"g":0.9,"f":5.08},{"n":5,"g":1,"f":5},
      {"n":6,"g":0.2,"f":6.37},{"n":6,"g":0.6,"f":6.24},{"n":6,"g":0.9,"f":6.08},{"n":6,"g":1,"f":6},
      {"n":7,"g":0.2,"f":7.37},{"n":7,"g":0.6,"f":7.24},{"n":7,"g":0.9,"f":7.08},{"n":7,"g":1,"f":7},
      {"n":8,"g":0.2,"f":8.37},{"n":8,"g":0.6,"f":8.24},{"n":8,"g":0.9,"f":8.08},{"n":8,"g":1,"f":8},
      {"n":9,"g":0.2,"f":9.37},{"n":9,"g":0.6,"f":9.24},{"n":9,"g":0.9,"f":9.08},{"n":9,"g":1,"f":9},
      {"n":10,"g":0.2,"f":10.37},{"n":10,"g":0.6,"f":10.24},{"n":10,"g":0.9,"f":10.08},{"n":10,"g":1,"f":10},
      {"n":11,"g":0.2,"f":11.37},{"n":11,"g":0.6,"f":11.24},{"n":11,"g":0.9,"f":11.08},{"n":11,"g":1,"f":11},
      {"n":12,"g":0.2,"f":12.37},{"n":12,"g":0.6,"f":12.24},{"n":12,"g":0.9,"f":12.08},{"n":12,"g":1,"f":12},
      {"n":13,"g":0.2,"f":13.37},{"n":13,"g":0.6,"f":13.24},{"n":13,"g":0.9,"f":13.08},{"n":13,"g":1,"f":13},
      {"n":14,"g":0.2,"f":14.37},{"n":14,"g":0.6,"f":14.24},{"n":14,"g":0.9,"f":14.08},{"n":14,"g":1,"f":14},
      {"n":15,"g":0.2,"f":15.37},{"n":15,"g":0.6,"f":15.24},{"n":15,"g":0.9,"f":15.08},{"n":15,"g":1,"f":15},
      {"n":16,"g":0.2,"f":16.37},{"n":16,"g":0.6,"f":16.24},{"n":16,"g":0.9,"f":16.08},{"n":16,"g":1,"f":16},
      {"n":17,"g":0.2,"f":17.37},{"n":17,"g":0.6,"f":17.24},{"n":17,"g":0.9,"f":17.08},{"n":17,"g":1,"f":17},
      {"n":18,"g":0.2,"f":18.37},{"n":18,"g":0.6,"f":18.24},{"n":18,"g":0.9,"f":18.08},{"n":18,"g":1,"f":18},
      {"n":19,"g":0.2,"f":19.37},{"n":19,"g":0.6,"f":19.24},{"n":19,"g":0.9,"f":19.08},{"n":19,"g":1,"f":19},
      {"n":20,"g":0.2,"f":20.37},{"n":20,"g":0.6,"f":20.24},{"n":20,"g":0.9,"f":20.08},{"n":20,"g":1,"f":20},
      {"n":21,"g":0.2,"f":21.37},{"n":21,"g":0.6,"f":21.24},{"n":21,"g":0.9,"f":21.08},{"n":21,"g":1,"f":21},
      {"n":22,"g":0.2,"f":22.37},{"n":22,"g":0.6,"f":22.24},{"n":22,"g":0.9,"f":22.08},{"n":22,"g":1,"f":22},
      {"n":23,"g":0.2,"f":23.37},{"n":23,"g":0.6,"f":23.24},{"n":23,"g":0.9,"f":23.08},{"n":23,"g":1,"f":23},
      {"n":24,"g":0.2,"f":24.37},{"n":24,"g":0.6,"f":24.24},{"n":24,"g":0.9,"f":24.08},{"n":24,"g":1,"f":24},
      {"n":25,"g":0.2,"f":25.37},{"n":25,"g":0.6,"f":25.24},{"n":25,"g":0.9,"f":25.08},{"n":25,"g":1,"f":25},
      {"n":26,"g":0.2,"f":26.37},{"n":26,"g":0.6,"f":26.24},{"n":26,"g":0.9,"f":26.08},{"n":26,"g":1,"f":26},
      {"n":27,"g":0.2,"f":27.37},{"n":27,"g":0.6,"f":27.24},{"n":27,"g":0.9,"f":27.08},{"n":27,"g":1,"f":27},
      {"n":28,"g":0.2,"f":28.37},{"n":28,"g":0.6,"f":28.24},{"n":28,"g":0.9,"f":28.08},{"n":28,"g":1,"f":28},
      {"n":29,"g":0.2,"f":29.37},{"n":29,"g":0.6,"f":29.24},{"n":29,"g":0.9,"f":29.08},{"n":29,"g":1,"f":29},
      {"n":30,"g":0.2,"f":30.37},{"n":30,"g":0.6,"f":30.24},{"n":30,"g":0.9,"f":30.08},{"n":30,"g":1,"f":30}
    ],
    "st": [
      {"c":"r","n":1,"g":0.249,"f":1.354},{"c":"r","n":2,"g":0.499,"f":2.273},{"c":"r","n":3,"g":0.499,"f":3.273},{"c":"r","n":4,"g":0.546,"f":4.258},{"c":"r","n":5,"g":0.537,"f":5.26},{"c":"r","n":6,"g":0.56,"f":6.253},{"c":"r","n":7,"g":0.552,"f":7.256},{"c":"r","n":8,"g":0.567,"f":8.251},{"c":"r","n":9,"g":0.56,"f":9.253},{"c":"r","n":10,"g":0.571,"f":10.249},
      {"c":"r","n":11,"g":0.565,"f":11.251},{"c":"r","n":12,"g":0.561,"f":12.253},{"c":"r","n":13,"g":0.569,"f":13.25},{"c":"r","n":14,"g":0.565,"f":14.251},{"c":"r","n":15,"g":0.571,"f":15.249},{"c":"r","n":16,"g":0.568,"f":16.25},{"c":"r","n":17,"g":0.5695,"f":17.25},{"c":"r","n":18,"g":0.571,"f":18.249},{"c":"r","n":19,"g":0.572,"f":19.249},{"c":"r","n":20,"g":0.57,"f":20.25},
      {"c":"r","n":21,"g":0.5714,"f":21.249},{"c":"r","n":22,"g":0.572,"f":22.249},{"c":"r","n":23,"g":0.5695,"f":23.25},{"c":"r","n":24,"g":0.571,"f":24.249},{"c":"r","n":25,"g":0.571,"f":25.249},{"c":"r","n":26,"g":0.571,"f":26.249},{"c":"r","n":27,"g":0.573,"f":27.249},{"c":"r","n":28,"g":0.574,"f":28.248},{"c":"r","n":29,"g":0.574,"f":29.248},{"c":"r","n":30,"g":0.575,"f":30.248},
      {"c":"g","n":1,"g":1,"f":1},{"c":"g","n":2,"g":0.853,"f":2.105},{"c":"g","n":3,"g":0.749,"f":3.161},{"c":"g","n":4,"g":0.722,"f":4.175},{"c":"g","n":5,"g":0.682,"f":5.196},{"c":"g","n":6,"g":0.677,"f":6.199},{"c":"g","n":7,"g":0.654,"f":7.211},{"c":"g","n":8,"g":0.654,"f":8.211},{"c":"g","n":9,"g":0.639,"f":9.219},{"c":"g","n":10,"g":0.641,"f":10.218},
      {"c":"g","n":11,"g":0.629,"f":11.225},{"c":"g","n":12,"g":0.62,"f":12.229},{"c":"g","n":13,"g":0.622,"f":13.228},{"c":"g","n":14,"g":0.615,"f":14.232},{"c":"g","n":15,"g":0.617,"f":15.231},{"c":"g","n":16,"g":0.612,"f":16.234},{"c":"g","n":17,"g":0.614,"f":17.233},{"c":"g","n":18,"g":0.61,"f":18.235},{"c":"g","n":19,"g":0.612,"f":19.234},{"c":"g","n":20,"g":0.608,"f":20.236},
      {"c":"g","n":21,"g":0.606,"f":21.237},{"c":"g","n":22,"g":0.608,"f":22.236},{"c":"g","n":23,"g":0.6,"f":23.24},{"c":"g","n":24,"g":0.601,"f":24.24},{"c":"g","n":25,"g":0.601,"f":25.24},{"c":"g","n":26,"g":0.6,"f":26.24},{"c":"g","n":27,"g":0.601,"f":27.24},{"c":"g","n":28,"g":0.599,"f":28.24},{"c":"g","n":29,"g":0.599,"f":29.24},{"c":"g","n":30,"g":0.598,"f":30.241},
      {"c":"b","n":2,"g":1,"f":2},{"c":"b","n":3,"g":0.932,"f":3.054},{"c":"b","n":4,"g":0.869,"f":4.097},{"c":"b","n":5,"g":0.811,"f":5.128},{"c":"b","n":6,"g":0.783,"f":6.142},{"c":"b","n":7,"g":0.748,"f":7.161},{"c":"b","n":8,"g":0.736,"f":8.168},{"c":"b","n":9,"g":0.713,"f":9.18},{"c":"b","n":10,"g":0.707,"f":10.183},
      {"c":"b","n":11,"g":0.691,"f":11.192},{"c":"b","n":12,"g":0.677,"f":12.199},{"c":"b","n":13,"g":0.673,"f":13.201},{"c":"b","n":14,"g":0.664,"f":14.206},{"c":"b","n":15,"g":0.6625,"f":15.207},{"c":"b","n":16,"g":0.654,"f":16.211},{"c":"b","n":17,"g":0.654,"f":17.211},{"c":"b","n":18,"g":0.646,"f":18.216},{"c":"b","n":19,"g":0.646,"f":19.216},{"c":"b","n":20,"g":0.64,"f":20.219},
      {"c":"b","n":21,"g":0.641,"f":21.218},{"c":"b","n":22,"g":0.635,"f":22.221},{"c":"b","n":23,"g":0.6305,"f":23.224},{"c":"b","n":24,"g":0.6315,"f":24.223},{"c":"b","n":25,"g":0.628,"f":25.225},{"c":"b","n":26,"g":0.628,"f":26.225},{"c":"b","n":27,"g":0.6245,"f":27.227},{"c":"b","n":28,"g":0.6253,"f":28.227},{"c":"b","n":29,"g":0.6236,"f":29.227},{"c":"b","n":30,"g":0.6229,"f":30.228}
    ],
    "vl": [
      {"g":0.56,"t":"d"},{"g":0.58,"t":"s"},{"g":0.6,"t":"d"}
    ]
  },
  "layer": [
    {
      "data": {"name": "red"},
      "mark": {"type": "line", "interpolate": "monotone", "clip": true, "strokeWidth": 2.8, "color": "#e04848"},
      "encoding": {
        "x": {"field": "g", "type": "quantitative", "scale": {"domain": [0.2, 1], "nice": false, "zero": false},
          "axis": {"orient": "bottom", "values": [0.2,0.3,0.4,0.5,0.6,0.7,0.8,0.9,1], "format": ".1~f", "ticks": false, "tickSize": 0, "labelPadding": 38,
            "title": "g", "titleFontSize": 74, "titleX": 1029, "titleY": 186, "titleBaseline": "alphabetic", "titleAlign": "center"}},
        "y": {"field": "f", "type": "quantitative", "scale": {"domain": [0, 31], "nice": false, "zero": false},
          "axis": {"orient": "left", "values": [0,5,10,15,20,25,30], "ticks": false, "tickSize": 0, "labelPadding": 28,
            "title": "Normalized modal resonance frequency", "titleFontSize": 80, "titleAngle": 270, "titleX": -128, "titleY": 707, "titleBaseline": "alphabetic", "titleAlign": "center"}},
        "detail": {"field": "k", "type": "nominal"}
      }
    },
    {
      "data": {"name": "green"},
      "mark": {"type": "line", "interpolate": "monotone", "clip": true, "strokeWidth": 2.8, "color": "#44d444"},
      "encoding": {
        "x": {"field": "g", "type": "quantitative", "scale": {"domain": [0.2, 1], "nice": false, "zero": false},
          "axis": {"orient": "bottom", "values": [0.2,0.3,0.4,0.5,0.6,0.7,0.8,0.9,1], "labels": false, "tickSize": 20, "offset": -20, "title": null, "zindex": 1}},
        "y": {"field": "f", "type": "quantitative", "scale": {"domain": [0, 31], "nice": false, "zero": false},
          "axis": {"orient": "left", "values": [0,5,10,15,20,25,30], "labels": false, "tickSize": 20, "offset": -20, "title": null, "zindex": 1}},
        "detail": {"field": "k", "type": "nominal"}
      }
    },
    {
      "data": {"name": "blue"},
      "mark": {"type": "line", "interpolate": "monotone", "clip": true, "strokeWidth": 2.8, "color": "#4848c8"},
      "encoding": {
        "x": {"field": "g", "type": "quantitative", "scale": {"domain": [0.2, 1], "nice": false, "zero": false},
          "axis": {"orient": "top", "values": [0.2,0.3,0.4,0.5,0.6,0.7,0.8,0.9,1], "labels": false, "tickSize": 20, "offset": -20, "title": null, "zindex": 1}},
        "y": {"field": "f", "type": "quantitative", "scale": {"domain": [0, 31], "nice": false, "zero": false},
          "axis": {"orient": "right", "values": [0,5,10,15,20,25,30], "labels": false, "tickSize": 20, "offset": -20, "title": null, "zindex": 1}},
        "detail": {"field": "k", "type": "nominal"}
      }
    },
    {
      "data": {"name": "hl"},
      "mark": {"type": "line", "clip": true, "color": "#2e4731"},
      "encoding": {
        "x": {"field": "g", "type": "quantitative", "scale": {"domain": [0.2, 1], "nice": false, "zero": false}, "axis": null},
        "y": {"field": "f", "type": "quantitative", "scale": {"domain": [0, 31], "nice": false, "zero": false}, "axis": null},
        "detail": {"field": "n", "type": "nominal"},
        "size": {"field": "n", "type": "quantitative", "scale": {"domain": [1, 30], "range": [3, 9]}, "legend": null}
      }
    },
    {
      "data": {"name": "st"},
      "mark": {"type": "point", "shape": "M0,-1L0.289,-0.5L0.866,-0.5L0.577,0L0.866,0.5L0.289,0.5L0,1L-0.289,0.5L-0.866,0.5L-0.577,0L-0.866,-0.5L-0.289,-0.5Z", "strokeWidth": 3, "opacity": 1},
      "encoding": {
        "x": {"field": "g", "type": "quantitative", "scale": {"domain": [0.2, 1], "nice": false, "zero": false}, "axis": null},
        "y": {"field": "f", "type": "quantitative", "scale": {"domain": [0, 31], "nice": false, "zero": false}, "axis": null},
        "size": {"field": "n", "type": "quantitative", "scale": {"domain": [1, 30], "range": [780, 3600]}, "legend": null},
        "stroke": {"field": "c", "type": "nominal", "scale": {"domain": ["r", "g", "b"], "range": ["#d43434", "#2ec82e", "#3434b4"]}, "legend": null},
        "fill": {"condition": {"test": "datum.n < 9", "value": "transparent"}, "field": "c", "type": "nominal", "scale": {"domain": ["r", "g", "b"], "range": ["#d43434", "#2ec82e", "#3434b4"]}, "legend": null}
      }
    },
    {
      "data": {"name": "vl"},
      "mark": {"type": "rule", "strokeWidth": 7, "color": "#000000"},
      "encoding": {
        "x": {"field": "g", "type": "quantitative", "scale": {"domain": [0.2, 1], "nice": false, "zero": false}, "axis": null},
        "strokeDash": {"field": "t", "type": "nominal", "scale": {"domain": ["d", "s"], "range": [[36, 30], [1, 0]]}, "legend": null}
      }
    }
  ],
  "resolve": {"axis": {"x": "independent", "y": "independent"}, "scale": {"size": "independent"}}
}
